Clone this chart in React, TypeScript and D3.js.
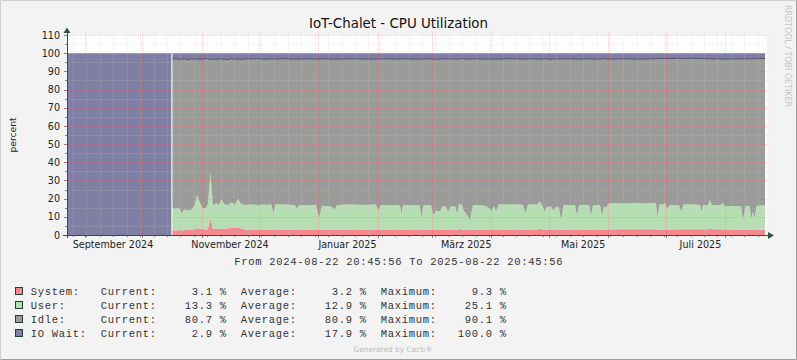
import React, { useEffect } from "react";
import * as d3 from "d3";

// ---------- DATA ----------
const START = "2024-08-22T20:45:56Z";
const END = "2025-08-22T20:45:56Z";
const TITLE = "IoT-Chalet - CPU Utilization";

// sample times, in days since START
const days = [
  0, 54.4, 54.7,
  55.0, 56.8, 58.4, 59.8, 61.0, 63.1, 65.2, 66.7, 67.8, 69.4, 70.9, 72.5, 73.5, 74.8, 76.1, 77.7, 79.3, 80.6,
  81.9, 84.0, 86.0, 87.6, 89.2, 90.7, 92.8, 95.4, 99.6, 102.7, 104.8, 106.4, 107.6, 108.7, 113.7, 118.9,
  119.9, 121.0, 126.7, 129.8, 131.4, 133.0, 137.1, 139.7, 140.8, 147.6, 155.4, 161.1, 162.4, 163.7, 171.0,
  173.6, 174.4, 175.2, 179.9, 183.8, 184.9, 185.9, 189.8, 191.1, 192.4, 194.5, 196.1, 197.6, 198.7, 200.0,
  202.3, 203.4, 204.4, 206.0, 207.0, 208.6, 210.1, 211.7, 215.4, 218.7, 221.5, 222.7, 223.7, 225.0, 231.0,
  236.2, 237.8, 239.1, 240.4, 245.1, 246.6, 247.7, 249.0, 250.3, 252.4, 253.4, 255.0, 256.5, 257.6, 258.9,
  264.9, 265.9, 267.0, 272.2, 273.2, 274.3, 277.9, 279.0, 280.0, 281.1, 282.4, 291.0, 298.8, 307.1, 307.9,
  309.0, 310.8, 311.8, 312.9, 314.2, 319.1, 320.2, 321.5, 327.5, 330.1, 330.9, 331.6, 334.2, 335.3, 336.3,
  340.5, 341.8, 343.1, 351.4, 352.5, 353.8, 355.9, 356.9, 357.7, 358.5, 359.5, 364.0,
];

const system = [
  0, 0, null,
  2.8, 2.5, 2.7, 2.5, 2.6, 2.8, 3.0, 3.3, 3.7, 3.6, 3.2, 3.0, 3.3, 9.3, 3.6, 3.3, 3.3, 3.6,
  3.5, 3.7, 3.9, 3.8, 4.0, 3.7, 3.0, 3.0, 3.0, 3.0, 2.8, 2.8, 2.8, 2.8, 3.0, 2.8,
  2.8, 2.8, 3.0, 3.0, 3.0, 2.8, 3.0, 2.8, 2.8, 3.0, 3.0, 3.0, 3.0, 3.0, 3.0,
  3.0, 3.0, 3.0, 3.0, 3.0, 3.0, 3.0, 3.0, 2.8, 2.8, 2.8, 3.0, 3.0, 3.0, 3.0,
  3.0, 3.0, 3.3, 3.0, 3.0, 2.8, 2.6, 3.0, 3.0, 3.0, 3.0, 3.0, 3.0, 3.0, 3.0,
  3.0, 3.0, 3.0, 3.0, 3.0, 3.5, 3.0, 3.0, 3.0, 3.0, 3.0, 3.0, 3.0, 3.0, 3.0,
  3.0, 3.0, 3.0, 3.0, 3.0, 3.0, 3.0, 3.0, 3.0, 3.0, 3.2, 3.2, 3.2, 3.2, 3.0,
  3.0, 3.0, 3.0, 3.0, 3.0, 3.1, 3.1, 3.1, 3.1, 3.1, 3.1, 3.1, 3.1, 3.8, 3.1,
  3.1, 3.1, 3.0, 3.0, 2.8, 3.0, 3.0, 3.0, 3.0, 3.0, 3.0, 3.1,
];

const user = [
  0, 0, null,
  12.2, 12.0, 12.3, 9.5, 11.4, 10.7, 11.0, 13.7, 18.3, 13.9, 11.3, 12.0, 13.7, 25.1, 12.4, 14.2, 13.2, 15.9,
  13.5, 12.8, 14.1, 12.7, 16.0, 13.3, 13.5, 13.8, 13.5, 13.8, 13.7, 14.2, 9.2, 14.0, 13.8, 13.5,
  11.7, 13.7, 13.5, 13.5, 6.2, 13.2, 13.0, 11.2, 13.7, 13.8, 13.5, 13.8, 10.5, 13.5, 13.3,
  13.3, 8.5, 13.3, 13.3, 13.3, 6.6, 13.3, 13.3, 8.2, 10.7, 10.2, 13.0, 12.5, 9.5, 12.5,
  13.0, 8.5, 13.7, 13.5, 10.0, 8.2, 5.6, 13.5, 13.5, 12.8, 10.5, 13.0, 9.8, 13.8, 13.8,
  13.8, 13.5, 8.8, 13.8, 13.8, 15.0, 13.5, 9.8, 12.5, 12.5, 10.5, 12.5, 12.0, 5.3, 13.3,
  13.5, 7.5, 13.5, 13.5, 7.5, 13.5, 13.5, 7.5, 12.8, 12.0, 14.1, 14.2, 14.2, 14.2, 6.9,
  13.8, 13.8, 14.8, 11.5, 13.5, 13.4, 9.7, 13.7, 13.7, 13.4, 9.7, 13.4, 13.4, 15.5, 13.4,
  13.4, 14.3, 13.0, 13.0, 5.5, 13.0, 13.0, 6.0, 10.0, 6.0, 13.0, 13.3,
];

const idle = [
  0, 0, null,
  81.7, 82.5, 81.6, 84.8, 83.0, 83.0, 82.9, 79.7, 75.0, 79.1, 82.3, 82.1, 79.7, 62.1, 80.9, 79.1, 80.5, 77.2,
  79.8, 80.0, 79.0, 80.2, 76.8, 79.6, 80.4, 80.0, 80.5, 79.9, 80.3, 79.9, 84.8, 80.0, 80.2, 80.4,
  82.3, 80.3, 80.4, 80.3, 87.6, 81.0, 80.8, 82.7, 80.3, 80.1, 80.3, 79.9, 83.3, 80.4, 80.5,
  80.5, 85.3, 80.7, 80.5, 80.4, 87.2, 80.5, 80.6, 85.8, 83.1, 83.8, 81.0, 81.2, 84.3, 81.4,
  80.8, 85.2, 79.8, 80.5, 83.8, 85.7, 88.6, 80.4, 80.3, 80.9, 83.3, 80.9, 84.0, 80.0, 80.2,
  80.0, 80.2, 85.0, 80.1, 80.0, 78.2, 80.3, 84.2, 81.3, 81.2, 83.3, 81.4, 81.8, 88.5, 80.7,
  80.3, 86.2, 80.3, 80.4, 86.3, 80.3, 80.2, 86.3, 81.2, 81.8, 79.5, 79.5, 79.3, 79.6, 87.2,
  80.3, 80.2, 79.4, 82.6, 80.5, 80.7, 84.3, 80.2, 80.4, 80.6, 84.2, 80.6, 80.4, 77.7, 80.3,
  80.5, 79.3, 80.8, 80.9, 88.5, 81.0, 80.8, 87.9, 84.0, 88.0, 81.1, 80.7,
];

const ioWait = [
  100, 100, null,
  3.3, 3.0, 3.4, 3.2, 3.0, 3.5, 3.1, 3.3, 3.0, 3.4, 3.2, 2.9, 3.3, 3.5, 3.1, 3.4, 3.0, 3.3,
  3.2, 3.5, 3.0, 3.3, 3.2, 3.4, 3.1, 3.2, 3.0, 3.3, 3.2, 3.1, 3.2, 3.2, 3.0, 3.3,
  3.2, 3.2, 3.1, 3.2, 3.2, 3.0, 3.2, 3.3, 3.2, 3.1, 3.2, 3.3, 3.2, 3.1, 3.2,
  3.2, 3.2, 3.0, 3.2, 3.3, 3.2, 3.2, 3.1, 3.2, 3.4, 3.2, 3.0, 3.3, 3.2, 3.1,
  3.2, 3.3, 3.2, 3.0, 3.2, 3.3, 3.2, 3.1, 3.2, 3.3, 3.2, 3.1, 3.2, 3.2, 3.0,
  3.2, 3.3, 3.2, 3.1, 3.2, 3.3, 3.2, 3.0, 3.2, 3.3, 3.2, 3.1, 3.2, 3.2, 3.0,
  3.2, 3.3, 3.2, 3.1, 3.2, 3.2, 3.3, 3.2, 3.0, 3.2, 3.2, 3.1, 3.3, 3.0, 2.9,
  2.9, 3.0, 2.8, 2.9, 3.0, 2.8, 2.9, 3.0, 2.8, 2.9, 3.0, 2.9, 3.1, 3.0, 3.2,
  3.0, 3.3, 3.2, 3.1, 3.2, 3.0, 3.2, 3.1, 3.0, 3.0, 2.9, 2.9,
];

const yTicks = [0, 10, 20, 30, 40, 50, 60, 70, 80, 90, 100, 110];
const yMinorTicks = [5, 15, 25, 35, 45, 55, 65, 75, 85, 95, 105];
const xLabelDates = [
  "2024-09-15T20:46:00Z", "2024-11-15T20:46:00Z", "2025-01-16T03:00:00Z",
  "2025-03-19T01:30:00Z", "2025-05-19T00:00:00Z", "2025-07-19T04:00:00Z",
];
const xLabels = ["September 2024", "November 2024", "Januar 2025", "März 2025", "Mai 2025", "Juli 2025"];

const seriesKeys = ["system", "user", "idle", "ioWait"];
const legendNames = ["System:", "User:", "Idle:", "IO Wait:"];
const legendCurrent = [3.1, 13.3, 80.7, 2.9];
const legendAverage = [3.2, 12.9, 80.9, 17.9];
const legendMaximum = [9.3, 25.1, 90.1, 100.0];
const seriesColors = ["#F5878D", "#B4DFB0", "#9B9B9A", "#7F7FA6"];

// ---------- LAYOUT ----------
const W = 797;
const H = 360;
const PL = 67;
const PR = 767;
const PT = 35;
const PB = 235;
const AXIS = "#2E5248";
const SANS = "'DejaVu Sans', sans-serif";
const MONO = "'Liberation Mono', monospace";
const NB = "\u00A0";

const fmt = (v: number) => v.toFixed(1).padStart(8, " ");
const mono = (s: string) => s.replace(/ /g, NB);

export default function App() {
  useEffect(() => {
    document.body.style.margin = "0";
  }, []);

  const start = new Date(START);
  const end = new Date(END);
  const x = d3.scaleUtc().domain([start, end]).range([PL, PR]);
  const y = d3.scaleLinear().domain([0, 110]).range([PB, PT]);

  const rows = days.map((d, i) => ({
    t: new Date(start.getTime() + d * 864e5),
    system: system[i],
    user: user[i],
    idle: idle[i],
    ioWait: ioWait[i],
  }));

  const stack = d3
    .stack<any>()
    .keys(seriesKeys)
    .value((d: any, k: string) => (d[k] == null ? 0 : d[k]));
  const layers = stack(rows);

  const area = d3
    .area<any>()
    .defined((d: any) => d.data.ioWait != null)
    .x((d: any) => x(d.data.t))
    .y0((d: any) => y(d[0]))
    .y1((d: any) => y(d[1]));

  const idleTop = d3
    .line<any>()
    .defined((d: any) => d.data.ioWait != null && d.data.idle > 0)
    .x((d: any) => x(d.data.t))
    .y((d: any) => y(d[1]));

  const months = d3.utcMonth.range(d3.utcMonth.ceil(start), end);
  const weeks = d3.utcMonday.range(start, end);

  const ip = (v: number) => Math.round(v);
  const px = (v: number) => Math.round(v) + 0.5;
  const gridTop = PT - 3;
  const gridBot = PB;

  return (
    <svg
      width={W}
      height={H}
      viewBox={`0 0 ${W} ${H}`}
      style={{ position: "absolute", left: 0, top: 0, display: "block" }}
    >
      <defs>
        <pattern id="vMinor" patternUnits="userSpaceOnUse" x={0} y={0} width={1} height={2}>
          <rect x={0} y={0} width={1} height={1} fill="#C8C8C8" fillOpacity={0.32} />
        </pattern>
        <pattern id="hMinor" patternUnits="userSpaceOnUse" x={0} y={0} width={2} height={1}>
          <rect x={0} y={0} width={1} height={1} fill="#C8C8C8" fillOpacity={0.32} />
        </pattern>
        <pattern id="vMajor" patternUnits="userSpaceOnUse" x={0} y={0} width={1} height={2}>
          <rect x={0} y={0} width={1} height={1} fill="#FF4A4A" fillOpacity={0.26} />
        </pattern>
        <pattern id="hMajor" patternUnits="userSpaceOnUse" x={0} y={0} width={2} height={1}>
          <rect x={0} y={0} width={1} height={1} fill="#FF4A4A" fillOpacity={0.26} />
        </pattern>
      </defs>

      {/* background + shaded border */}
      <rect x={0} y={0} width={W} height={H} fill="#F3F3F3" />
      <path d={`M0.5,${H - 0.5} V0.5 H${W - 0.5}`} stroke="#CFCFCF" fill="none" />
      <path d={`M0.5,${H - 0.5} H${W - 0.5} V0.5`} stroke="#9E9E9E" fill="none" />

      {/* plot canvas */}
      <rect x={PL} y={PT} width={PR - PL} height={PB - PT} fill="#FFFFFF" />

      {/* stacked areas */}
      {layers.map((layer: any, i: number) => (
        <path key={seriesKeys[i]} d={area(layer) || ""} fill={seriesColors[i]} stroke="none" />
      ))}
      <path d={idleTop(layers[2]) || ""} fill="none" stroke="#4F4F74" strokeWidth={1} />

      {/* grid (dotted) */}
      <g shapeRendering="crispEdges">
        {weeks.map((w, i) => (
          <rect key={"w" + i} x={ip(x(w))} y={gridTop} width={1} height={gridBot - gridTop} fill="url(#vMinor)" />
        ))}
        {yMinorTicks.map((v) => (
          <rect key={"ym" + v} x={PL} y={ip(y(v))} width={PR + 3 - PL} height={1} fill="url(#hMinor)" />
        ))}
        {months.map((m, i) => (
          <rect key={"m" + i} x={ip(x(m))} y={gridTop} width={1} height={gridBot - gridTop} fill="url(#vMajor)" />
        ))}
        {yTicks.slice(1).map((v) => (
          <rect key={"y" + v} x={PL} y={ip(y(v))} width={PR + 3 - PL} height={1} fill="url(#hMajor)" />
        ))}
      </g>

      {/* tick marks */}
      <g stroke="#555" strokeOpacity={0.7} strokeWidth={1} shapeRendering="crispEdges">
        {weeks.map((w, i) => (
          <line key={"tw" + i} x1={px(x(w))} x2={px(x(w))} y1={PB} y2={PB + 2} />
        ))}
        {months.map((m, i) => (
          <line key={"tm" + i} x1={px(x(m))} x2={px(x(m))} y1={PB} y2={PB + 3} />
        ))}
        {yMinorTicks.map((v) => (
          <line key={"tym" + v} x1={PL - 2} x2={PL} y1={px(y(v))} y2={px(y(v))} />
        ))}
        {yTicks.map((v) => (
          <line key={"ty" + v} x1={PL - 3} x2={PL} y1={px(y(v))} y2={px(y(v))} />
        ))}
      </g>

      {/* axes */}
      <line x1={PL - 4} x2={PR + 2} y1={px(PB)} y2={px(PB)} stroke={AXIS} shapeRendering="crispEdges" />
      <path d={`M${PR + 1},${PB - 3} L${PR + 7},${PB + 0.5} L${PR + 1},${PB + 4} Z`} fill={AXIS} />
      <line x1={px(PL - 0.5)} x2={px(PL - 0.5)} y1={PB + 3} y2={PT - 4} stroke={AXIS} shapeRendering="crispEdges" />
      <path d={`M${PL - 3.5},${PT - 2} L${PL},${PT - 7.5} L${PL + 3.5},${PT - 2} Z`} fill={AXIS} />

      {/* y tick labels */}
      <g fontFamily={SANS} fontSize={9.6} fill="#222" textAnchor="end">
        {yTicks.map((v) => (
          <text key={"yl" + v} x={60} y={y(v) + 3.6}>
            {v}
          </text>
        ))}
      </g>
      {/* x labels */}
      <g fontFamily={SANS} fontSize={9.6} fill="#222" textAnchor="middle">
        {xLabelDates.map((d, i) => (
          <text key={"xl" + i} x={x(new Date(d))} y={248.3}>
            {xLabels[i]}
          </text>
        ))}
      </g>

      {/* y axis title */}
      <text
        transform={`translate(15.5,${(PT + PB) / 2}) rotate(-90)`}
        fontFamily={SANS}
        fontSize={9.2}
        fill="#222"
        textAnchor="middle"
      >
        percent
      </text>

      {/* title */}
      <text x={398.5} y={28} fontFamily={SANS} fontSize={13.4} fill="#111" textAnchor="middle">
        {TITLE}
      </text>

      {/* watermark */}
      <text
        transform="translate(785,5) rotate(90)"
        fontFamily={SANS}
        fontSize={8.6}
        fill="#C4C4C4"
        textLength={102}
        lengthAdjust="spacingAndGlyphs"
      >
        RRDTOOL / TOBI OETIKER
      </text>

      {/* time range */}
      <text x={234.3} y={265} fontFamily={MONO} fontSize={10.5} letterSpacing={0.7} fill="#333">
        {mono("From 2024-08-22 20:45:56 To 2025-08-22 20:45:56")}
      </text>

      {/* legend */}
      {legendNames.map((name, i) => {
        const by = 295 + i * 14;
        const line =
          name.padEnd(10, " ") +
          "Current:" + fmt(legendCurrent[i]) + " %  " +
          "Average:" + fmt(legendAverage[i]) + " %  " +
          "Maximum:" + fmt(legendMaximum[i]) + " %";
        return (
          <g key={"lg" + i}>
            <rect
              x={15.5}
              y={by - 7.5}
              width={7}
              height={7}
              fill={seriesColors[i]}
              stroke="#2A3A36"
              strokeWidth={1}
              shapeRendering="crispEdges"
            />
            <text x={30.7} y={by} fontFamily={MONO} fontSize={10.5} letterSpacing={0.7} fill="#333">
              {mono(line)}
            </text>
          </g>
        );
      })}

      {/* footer */}
      <text x={393} y={351.5} fontFamily={SANS} fontSize={7.4} fill="#BBBBBB" textAnchor="middle">
        Generated by Cacti®
      </text>
    </svg>
  );
}
